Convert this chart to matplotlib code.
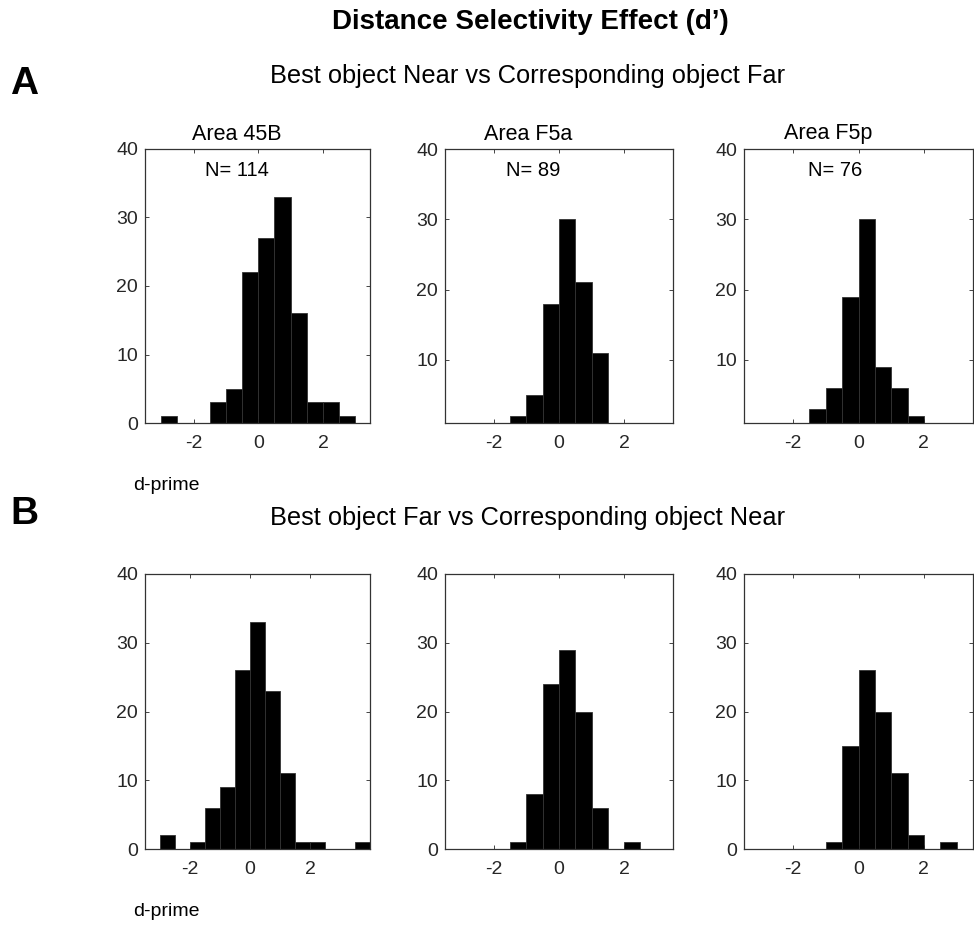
import numpy as np
import matplotlib.pyplot as plt

plt.rcParams['font.family'] = ['Liberation Sans', 'DejaVu Sans']
plt.rcParams['axes.unicode_minus'] = False

# histogram bins (left edges), width 0.5
bin_left = [-3.0, -2.5, -2.0, -1.5, -1.0, -0.5, 0.0, 0.5, 1.0, 1.5, 2.0, 2.5, 3.0, 3.5]

# Best object Near vs Corresponding object Far
near_45b = [1, 0, 0, 3, 5, 22, 27, 33, 16, 3, 3, 1, 0, 0]
near_f5a = [0, 0, 1, 2, 5, 18, 30, 21, 11, 0, 1, 0, 0, 0]
near_f5p = [0, 1, 0, 3, 6, 19, 30, 9, 6, 2, 0, 0, 0, 0]

# Best object Far vs Corresponding object Near
far_45b = [2, 0, 1, 6, 9, 26, 33, 23, 11, 1, 1, 0, 0, 1]
far_f5a = [0, 0, 0, 1, 8, 24, 29, 20, 6, 0, 1, 0, 0, 0]
far_f5p = [0, 0, 0, 0, 1, 15, 26, 20, 11, 2, 0, 1, 0, 0]

areas = ['Area 45B', 'Area F5a', 'Area F5p']
n_labels = ['N= 114', 'N= 89', 'N= 76']

W, H = 974, 925
fig = plt.figure(figsize=(W / 100, H / 100), dpi=100)


def add_ax(left, top, right, bottom):
    return fig.add_axes([left / W, 1 - bottom / H, (right - left) / W, (bottom - top) / H])


def ftext(x, y, s, **kw):
    fig.text(x / W, 1 - y / H, s, va='center', **kw)


def draw_hist(ax, counts, xlim, ylim):
    ax.bar(bin_left, counts, width=0.5, align='edge', color='black',
           edgecolor='#333333', linewidth=0.6)
    ax.set_xlim(*xlim)
    ax.set_ylim(*ylim)
    ax.set_xticks([-2, 0, 2])
    ax.set_yticks([t for t in [0, 10, 20, 30, 40] if t >= ylim[0]])
    ax.tick_params(direction='in', top=True, right=True, length=3,
                   labelsize=14, colors='#262626', width=0.6)
    ax.tick_params(axis='x', pad=9)
    ax.tick_params(axis='y', pad=5)
    for s in ax.spines.values():
        s.set_color('#333333')
        s.set_linewidth(0.9)


cols = [(145, 370), (445, 673), (744, 973)]
row_a = (149, 423)
row_b = (574, 849)

top_data = [near_45b, near_f5a, near_f5p]
top_xlim = [(-3.5, 3.45), (-3.5, 3.5), (-3.5, 3.5)]
top_ylim = [(0, 40), (1, 40), (1, 40)]
bot_data = [far_45b, far_f5a, far_f5p]
bot_xlim = [(-3.5, 4.0), (-3.5, 3.5), (-3.5, 3.5)]

title_x = [237, 528, 828]
n_x = [237, 533, 835]

for i in range(3):
    ax = add_ax(cols[i][0], row_a[0], cols[i][1], row_a[1])
    draw_hist(ax, top_data[i], top_xlim[i], top_ylim[i])
    ftext(title_x[i], 134, areas[i], ha='center', fontsize=15.5)
    ftext(n_x[i], 170, n_labels[i], ha='center', fontsize=14.5)

    ax = add_ax(cols[i][0], row_b[0], cols[i][1], row_b[1])
    draw_hist(ax, bot_data[i], bot_xlim[i], (0, 40))

ftext(530, 22, 'Distance Selectivity Effect (d\u2019)', ha='center',
      fontsize=20, fontweight='bold')
ftext(10, 84, 'A', ha='left', fontsize=28, fontweight='bold')
ftext(528, 76, 'Best object Near vs Corresponding object Far', ha='center', fontsize=18.3)
ftext(133, 486, 'd-prime', ha='left', fontsize=14)

ftext(10, 514, 'B', ha='left', fontsize=28, fontweight='bold')
ftext(528, 518, 'Best object Far vs Corresponding object Near', ha='center', fontsize=18.3)
ftext(133, 912, 'd-prime', ha='left', fontsize=14)

fig.savefig('out.png', dpi=100)
